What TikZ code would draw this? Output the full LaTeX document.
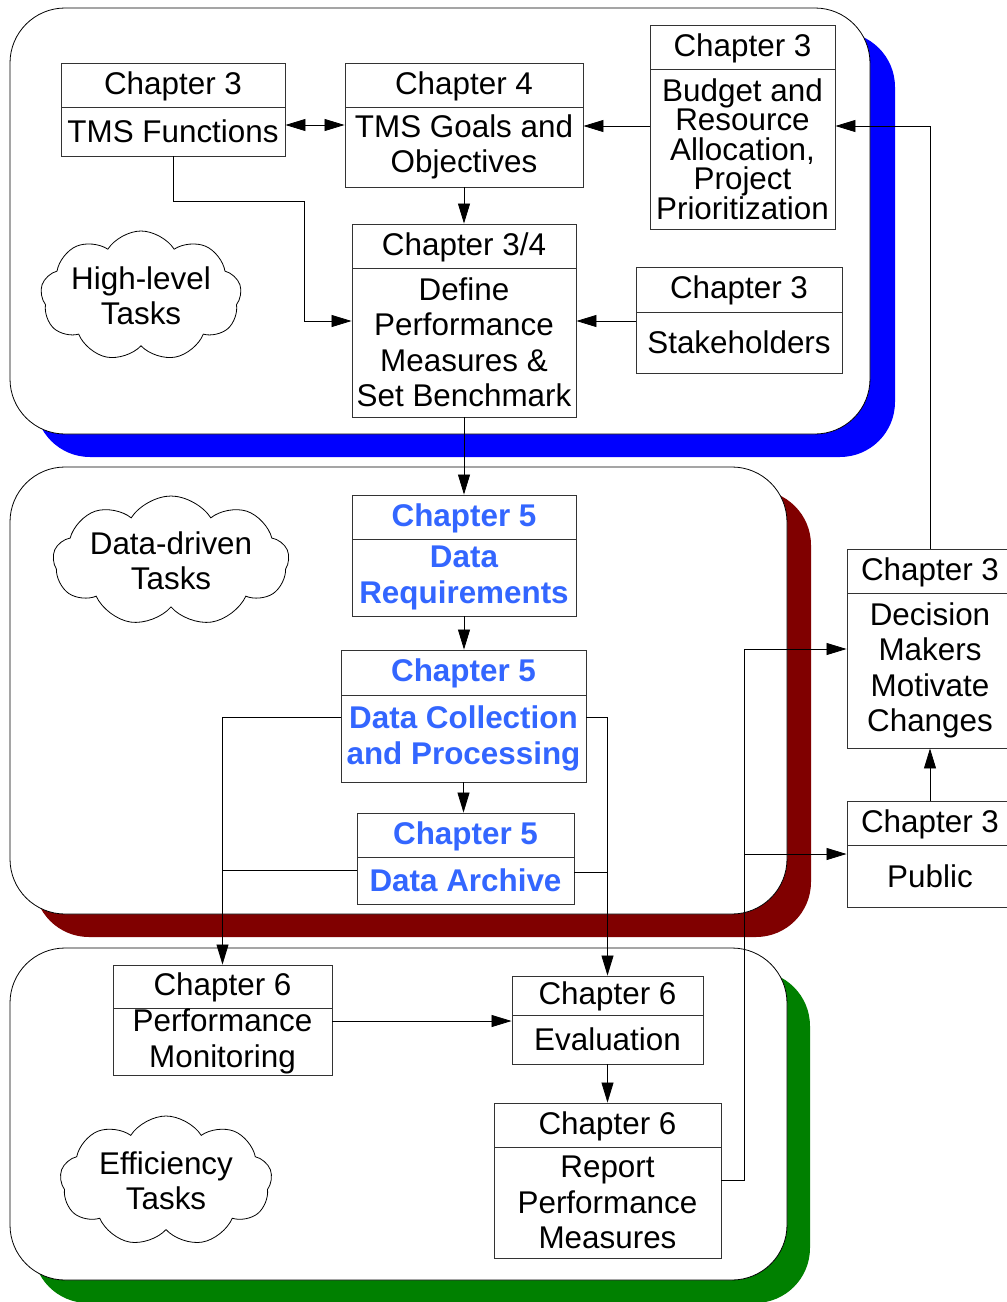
\documentclass[tikz,border=0pt]{standalone}
\usepackage{fontspec}
\setmainfont{Liberation Sans}
\usetikzlibrary{shapes.symbols, fit, arrows.meta}

\definecolor{chapblue}{RGB}{51,102,255}
\definecolor{panelblue}{RGB}{0,0,255}
\definecolor{panelred}{RGB}{128,0,0}
\definecolor{panelgreen}{RGB}{0,128,0}

\tikzset{
  panel/.style={draw=black, fill=white, line width=0.8pt, rounded corners=55pt},
  panelshadow/.style={fill=#1, rounded corners=55pt},
  frame/.style={draw=black!80, line width=0.9pt, inner sep=0pt, fill=white},
  divider/.style={draw=black!80, line width=0.9pt},
  lbl/.style={align=center, inner sep=0pt, font=\fontsize{31.4}{35.5}\selectfont},
  tightlbl/.style={align=center, inner sep=0pt, font=\fontsize{31.4}{29.5}\selectfont},
  bluelbl/.style={align=center, inner sep=0pt, text=chapblue, font=\fontsize{31.4}{36}\selectfont\bfseries},
  link/.style={draw=black, line width=0.8pt},
  arr/.style={link, -{Triangle[length=20pt,width=12pt]}},
  dblarr/.style={link, {Triangle[length=20pt,width=12pt]}-{Triangle[length=20pt,width=12pt]}},
  task/.style={cloud, draw, cloud puffs=9, cloud puff arc=115, cloud ignores aspect,
    line width=0.8pt, fill=white, align=center, inner sep=0pt,
    font=\fontsize{31.4}{35}\selectfont}
}

% two-part chapter box: name, x1, y1, y of divider, x2, y2, text style, header, body
\newcommand\chapbox[9]{%
  \node[frame, fit={(#2,#3) (#5,#6)}] (#1) {};
  \draw[divider] (#2,#4) -- (#5,#4);
  \node[#7] (#1-h) at ({(#2+#5)/2},{(#3+#4)/2+1}) {Chapter #8};
  \node[#7] (#1-b) at ({(#2+#5)/2},{(#4+#6)/2}) {#9};
}

\begin{document}
\begin{tikzpicture}[x=1pt, y=-1pt]
\useasboundingbox (0,0) rectangle (1007,1302);

% three task panels with offset coloured shadows
\fill[panelshadow=panelblue] (35,32) rectangle (895,457);
\draw[panel] (10,8) rectangle (870,434);
\fill[panelshadow=panelred] (34,490) rectangle (811,937);
\draw[panel] (10,467) rectangle (787,914);
\fill[panelshadow=panelgreen] (33,971) rectangle (810,1303);
\draw[panel] (10,948) rectangle (787,1280);

% task clouds
\node[task, minimum width=176pt, minimum height=130pt] (hl) at (141,296) {High-level\\Tasks};
\node[task, minimum width=236pt, minimum height=130pt] (dd) at (171,561) {Data-driven\\Tasks};
\node[task, minimum width=212pt, minimum height=130pt] (ef) at (166,1181) {Efficiency\\Tasks};

% high-level tasks
\chapbox{fn}{61}{63}{107}{285}{156}{lbl}{3}{TMS Functions}
\chapbox{goal}{345}{63}{107}{583}{187}{lbl}{4}{TMS Goals and\\Objectives}
\chapbox{bud}{650}{25}{69}{835}{229}{tightlbl}{3}{Budget and\\Resource\\Allocation,\\Project\\Prioritization}
\chapbox{def}{352}{224}{268}{576}{417}{lbl}{3/4}{Define\\Performance\\Measures \&\\Set Benchmark}
\chapbox{stk}{636}{267}{312}{842}{373}{lbl}{3}{Stakeholders}

% data-driven tasks
\chapbox{req}{352}{495}{539}{576}{616}{bluelbl}{5}{Data\\Requirements}
\chapbox{col}{341}{650}{695}{586}{782}{bluelbl}{5}{Data Collection\\and Processing}
\chapbox{arc}{357}{813}{857}{574}{904}{bluelbl}{5}{Data Archive}

% audiences
\chapbox{dec}{847}{549}{593}{1013}{748}{lbl}{3}{Decision\\Makers\\Motivate\\Changes}
\chapbox{pub}{847}{801}{845}{1013}{907}{lbl}{3}{Public}

% efficiency tasks
\chapbox{mon}{113}{965}{1008}{332}{1075}{lbl}{6}{Performance\\Monitoring}
\chapbox{eva}{512}{976}{1015}{703}{1064}{lbl}{6}{Evaluation}
\chapbox{rep}{494}{1103}{1147}{721}{1258}{lbl}{6}{Report\\Performance\\Measures}

% connectors
\draw[dblarr] (fn.east |- 0,125) -- (goal.west |- 0,125);
\draw[arr] (fn.south) -- (fn.south |- 0,201) -- (304,201) -- (304,321) -- (def.west |- 0,321);
\draw[arr] (goal.south) -- (goal.south |- def.north);
\draw[arr] (bud.west |- 0,126) -- (goal.east |- 0,126);
\draw[arr] (stk.west |- 0,321) -- (def.east |- 0,321);
\draw[arr] (def.south) -- (def.south |- req.north);
\draw[arr] (req.south) -- (req.south |- col.north);
\draw[arr] (col.south) -- (col.south |- arc.north);
\draw[arr] (col.west |- 0,717) -| (mon.north);
\draw[link] (arc.west |- 0,870) -- (mon.north |- 0,870);
\draw[arr] (col.east |- 0,717) -| (eva.north);
\draw[link] (arc.east |- 0,872) -- (eva.north |- 0,872);
\draw[arr] (mon.east |- 0,1021) -- (eva.west |- 0,1021);
\draw[arr] (eva.south) -- (eva.south |- rep.north);
\coordinate (fork) at (744,854);
\draw[arr] (rep.east |- 0,1180) -- (fork |- 0,1180) -- (fork |- 0,649) -- (dec.west |- 0,649);
\draw[arr] (fork) -- (pub.west |- fork);
\draw[arr] (pub.north) -- (dec.south);
\draw[arr] (dec.north) -- (dec.north |- 0,126) -- (bud.east |- 0,126);
\end{tikzpicture}
\end{document}
